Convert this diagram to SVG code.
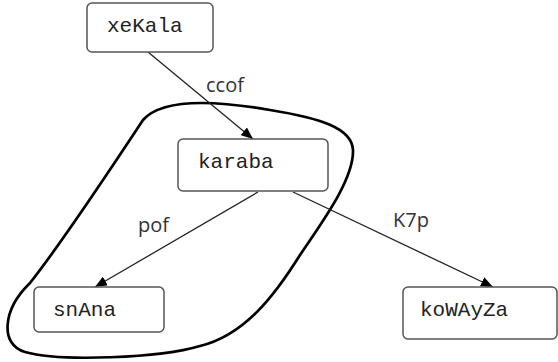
<svg xmlns="http://www.w3.org/2000/svg" width="558" height="362" viewBox="0 0 558 362">
<defs>
<style>
.node rect{fill:#fff;stroke:#555;stroke-width:1.5}
.node text{font-family:"Liberation Mono","Courier New",monospace;font-size:21px;fill:#222}
.edge{stroke:#222;stroke-width:1.3;fill:none;marker-end:url(#arrow)}
.lbl{font-family:"Open Sans","Noto Sans",sans-serif;font-size:20px;fill:#333}
.blob{fill:none;stroke:#000;stroke-width:2.7}
</style>
<marker id="arrow" markerUnits="userSpaceOnUse" markerWidth="12" markerHeight="10" viewBox="0 0 12 10" refX="12" refY="5" orient="auto">
<path d="M0,0 L12,5 L0,10 Z" fill="#000"/>
</marker>
</defs>
<rect width="558" height="362" fill="#fff"/>
<path class="blob" d="M143,120 C165,95 230,103 270,110 C320,118 352,128 353,150 C354,180 320,225 300,255 C275,295 245,335 200,346 C160,358 60,362 25,352 C0,345 2,310 30,283 C60,245 110,170 143,120 Z"/>
<g id="connectors">
<line class="edge" x1="148" y1="52" x2="253" y2="139"/>
<line class="edge" x1="258" y1="192" x2="95" y2="287"/>
<line class="edge" x1="293" y1="192" x2="493" y2="287"/>
<text class="lbl" x="206" y="92">ccof</text>
<text class="lbl" x="138" y="232">pof</text>
<text class="lbl" x="393" y="227">K7p</text>
</g>
<g id="xeKala" class="node"><rect x="87" y="3" width="126" height="49" rx="5"/><text x="107" y="32">xeKala</text></g>
<g id="karaba" class="node"><rect x="178" y="139" width="150" height="52" rx="5"/><text x="198" y="168">karaba</text></g>
<g id="snAna" class="node"><rect x="34" y="287" width="130" height="45" rx="5"/><text x="53" y="316">snAna</text></g>
<g id="koWAyZa" class="node"><rect x="403" y="287" width="154" height="52" rx="5"/><text x="420" y="316">koWAyZa</text></g>
</svg>
